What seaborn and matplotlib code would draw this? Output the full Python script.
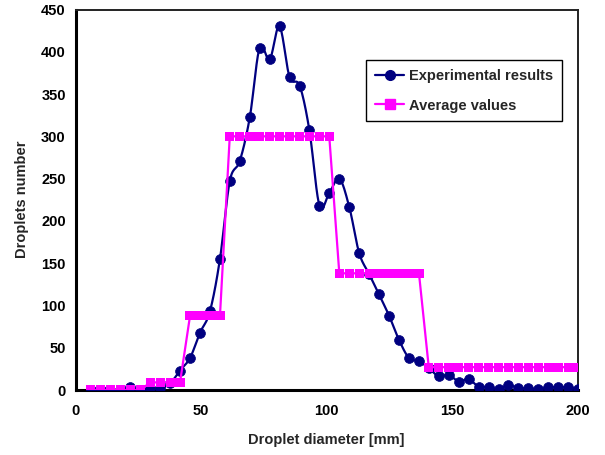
import numpy as np
import pandas as pd
import matplotlib
matplotlib.use("Agg")
import matplotlib.pyplot as plt
import seaborn as sns
from matplotlib.lines import Line2D

# ---------------- data ----------------
diameter = [6.0, 10.0, 13.9, 17.9, 21.8, 25.8, 29.8, 33.7, 37.7, 41.6,
            45.6, 49.6, 53.5, 57.5, 61.4, 65.4, 69.4, 73.3, 77.3, 81.2,
            85.2, 89.2, 93.1, 97.1, 101.0, 105.0, 109.0, 112.9, 116.9, 120.8,
            124.8, 128.8, 132.7, 136.7, 140.6, 144.6, 148.6, 152.5, 156.5, 160.4,
            164.4, 168.4, 172.3, 176.3, 180.2, 184.2, 188.2, 192.1, 196.1, 200.0]

experimental = [0, 0, 0, 0, 3, 0, 2, 2, 8, 23,
                38, 68, 93, 155, 247, 271, 323, 405, 391, 430,
                370, 360, 307, 218, 233, 250, 216, 162, 137, 113,
                88, 59, 38, 34, 26, 16, 18, 10, 13, 4,
                4, 1, 6, 2, 2, 1, 3, 3, 3, 1]

average = [0, 0, 0, 0, 0, 0, 9, 9, 9, 9,
           88, 88, 88, 88, 300, 300, 300, 300, 300, 300,
           300, 300, 300, 300, 300, 138, 138, 138, 138, 138,
           138, 138, 138, 138, 27, 27, 27, 27, 27, 27,
           27, 27, 27, 27, 27, 27, 27, 27, 27, 27]

x_ticks = [0, 50, 100, 150, 200]
y_ticks = [0, 50, 100, 150, 200, 250, 300, 350, 400, 450]

labels = ["Experimental results", "Average values"]
x_label = "Droplet diameter [mm]"
y_label = "Droplets number"

NAVY = "#000080"
MAGENTA = "#FF00FF"

# ---------------- styling ----------------
sns.set_theme(style="white")
plt.rcParams["font.family"] = ["Liberation Sans", "DejaVu Sans"]
plt.rcParams["font.weight"] = "bold"
FS = 10.5


def catmull_rom(xs, ys, n=16):
    """Smooth (Excel-like) rendering curve through the given points."""
    P = np.column_stack([xs, ys]).astype(float)
    P = np.vstack([P[0], P, P[-1]])
    out = []
    t = np.linspace(0, 1, n, endpoint=False)[:, None]
    for i in range(1, len(P) - 2):
        p0, p1, p2, p3 = P[i - 1], P[i], P[i + 1], P[i + 2]
        seg = 0.5 * ((2 * p1) + (-p0 + p2) * t
                     + (2 * p0 - 5 * p1 + 4 * p2 - p3) * t ** 2
                     + (-p0 + 3 * p1 - 3 * p2 + p3) * t ** 3)
        out.append(seg)
    out.append(P[-2][None, :])
    out = np.vstack(out)
    return out[:, 0], out[:, 1]


df = pd.DataFrame({"diameter": diameter,
                   "experimental": experimental,
                   "average": average})

sx, sy = catmull_rom(df["diameter"].values, df["experimental"].values)
smooth = pd.DataFrame({"x": sx, "y": sy})

fig = plt.figure(figsize=(6.05, 4.55), dpi=100)
ax = fig.add_axes([75.5 / 605, 1 - 390 / 455, (578 - 75.5) / 605, (390 - 9.5) / 455])

# experimental: smooth line + circle markers
sns.lineplot(data=smooth, x="x", y="y", ax=ax, color=NAVY, lw=1.6,
             sort=False, estimator=None, zorder=2)
sns.scatterplot(data=df, x="diameter", y="experimental", ax=ax, color=NAVY,
                marker="o", s=50, edgecolor=NAVY, linewidth=0.5, zorder=3)

# average values: line + square markers (drawn on top)
sns.lineplot(data=df, x="diameter", y="average", ax=ax, color=MAGENTA, lw=1.6,
             sort=False, estimator=None, zorder=4)
sns.scatterplot(data=df, x="diameter", y="average", ax=ax, color=MAGENTA,
                marker="s", s=45, edgecolor="none", linewidth=0, zorder=5)

ax.set_xlim(0, 200)
ax.set_ylim(0, 450)
ax.set_xticks(x_ticks)
ax.set_yticks(y_ticks)
ax.tick_params(axis="both", direction="in", length=5, width=1.2,
               labelsize=FS, colors="black")
ax.tick_params(axis="x", pad=10)
ax.tick_params(axis="y", pad=7)
for lab in ax.get_xticklabels() + ax.get_yticklabels():
    lab.set_fontweight("bold")

ax.set_xlabel(x_label, fontsize=FS, fontweight="bold", labelpad=11)
ax.set_ylabel(y_label, fontsize=FS, fontweight="bold", labelpad=9)

for side in ["left", "bottom"]:
    ax.spines[side].set_linewidth(2.2)
    ax.spines[side].set_color("black")
for side in ["top", "right"]:
    ax.spines[side].set_linewidth(1.4)
    ax.spines[side].set_color("#222222")
    ax.spines[side].set_visible(True)

handles = [
    Line2D([0], [0], color=NAVY, lw=1.6, marker="o", markersize=7,
           markerfacecolor=NAVY, markeredgecolor=NAVY),
    Line2D([0], [0], color=MAGENTA, lw=1.6, marker="s", markersize=6.7,
           markerfacecolor=MAGENTA, markeredgecolor=MAGENTA),
]
leg = ax.legend(handles, labels, loc="upper left",
                bbox_to_anchor=(0.579, 0.866), borderaxespad=0,
                frameon=True, fancybox=False,
                edgecolor="black", framealpha=1, handlelength=2.0,
                handletextpad=0.3, labelspacing=1.05, borderpad=0.6,
                prop={"size": FS, "weight": "bold"})
leg.get_frame().set_linewidth(1.0)

fig.savefig("out.png", dpi=100)
